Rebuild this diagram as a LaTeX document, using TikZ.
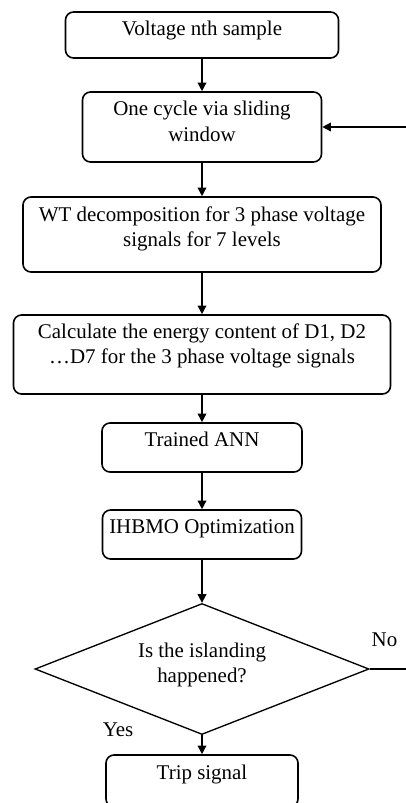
\documentclass[tikz,border=0pt]{standalone}
\usepackage{fontspec}
\setmainfont{Liberation Serif}
\usetikzlibrary{arrows.meta,shapes.geometric}

\begin{document}
\begin{tikzpicture}[
  x=0.75pt,
  y=-0.75pt,
  stepbox/.style={
    draw,
    rounded corners=6pt,
    line width=1.2pt,
    inner sep=0pt
  },
  steptext/.style={anchor=north, align=center, inner sep=0pt, font=\fontsize{15.7}{18.8}\selectfont},
  decision/.style={draw, diamond, line width=1pt, inner sep=0pt, minimum width=250.5pt, minimum height=98.25pt},
  branch/.style={inner sep=0pt, font=\fontsize{15.7}{18.8}\selectfont},
  arrow/.style={-{Triangle[length=6.5pt,width=6.5pt]}, line width=1.1pt}
]
\path[use as bounding box, clip] (0,0) rectangle (406,803);

\node[stepbox, minimum width=204.75pt, minimum height=34.5pt] (sample) at (202,35) {};
\node[stepbox, minimum width=179.25pt, minimum height=52.5pt] (window) at (202,127) {};
\node[stepbox, minimum width=268.5pt, minimum height=56.25pt] (wt) at (202,234.5) {};
\node[stepbox, minimum width=282.75pt, minimum height=59.25pt] (energy) at (202,354.5) {};
\node[stepbox, minimum width=150pt, minimum height=36.75pt] (ann) at (202,447.5) {};
\node[stepbox, minimum width=149.25pt, minimum height=36.75pt] (ihbmo) at (202,534.5) {};
\node[decision] (decide) at (202,669) {};
\node[stepbox, minimum width=144pt, minimum height=39pt] (trip) at (202,781) {};

\node[steptext] (sample-t) at ([yshift=-7.5pt]sample.north) {Voltage nth sample};
\node[steptext] (window-t) at ([yshift=-7.5pt]window.north) {One cycle via sliding\\window};
\node[steptext] (wt-t) at ([yshift=-7.5pt]wt.north) {WT decomposition for 3 phase voltage\\signals for 7 levels};
\node[steptext] (energy-t) at ([yshift=-7pt]energy.north) {Calculate the energy content of D1, D2\\…D7 for the 3 phase voltage signals};
\node[steptext] (ann-t) at ([yshift=-7.5pt]ann.north) {Trained ANN};
\node[steptext] (ihbmo-t) at ([yshift=-7.5pt]ihbmo.north) {IHBMO Optimization};
\node[steptext] (decide-t) at ([yshift=-30pt]decide.north) {Is the islanding\\happened?};
\node[steptext] (trip-t) at ([yshift=-8pt]trip.north) {Trip signal};

\node[branch] (yes) at (118,730) {Yes};
\node[branch] (no) at (384.5,640) {No};
\coordinate (back) at (414,669);

\draw[arrow] (sample) -- (window);
\draw[arrow] (window) -- (wt);
\draw[arrow] (wt) -- (energy);
\draw[arrow] (energy) -- (ann);
\draw[arrow] (ann) -- (ihbmo);
\draw[arrow] (ihbmo) -- (decide);
\draw[arrow] (decide) -- (trip);
\draw[arrow] (decide.east) -- (back) |- (window.east);
\end{tikzpicture}
\end{document}
